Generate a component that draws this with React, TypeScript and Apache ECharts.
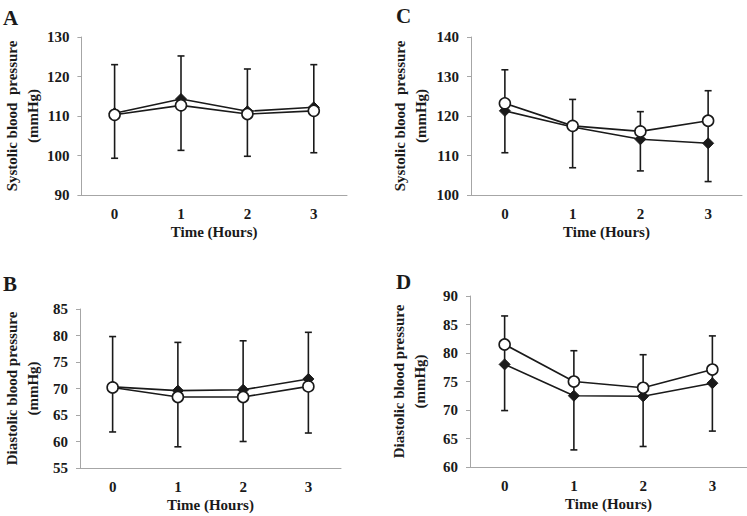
import React, { useEffect, useRef } from "react";
import * as echarts from "echarts";

const hours = ["0", "1", "2", "3"];

// Panel A – systolic
const aDiamond = [110.7, 114.3, 111.2, 112.2];
const aCircle = [110.3, 112.7, 110.5, 111.3];
const aHigh = [123.0, 125.2, 121.9, 123.0];
const aLow = [99.3, 101.3, 99.8, 100.7];

// Panel B – diastolic
const bDiamond = [70.3, 69.6, 69.75, 71.8];
const bCircle = [70.2, 68.4, 68.4, 70.4];
const bHigh = [79.8, 78.7, 79.0, 80.6];
const bLow = [61.8, 59.0, 60.0, 61.6];

// Panel C – systolic
const cDiamond = [121.3, 117.2, 114.1, 113.1];
const cCircle = [123.2, 117.5, 116.1, 118.8];
const cHigh = [131.7, 124.2, 121.1, 126.4];
const cLow = [110.7, 106.9, 106.1, 103.4];

// Panel D – diastolic
const dDiamond = [78.0, 72.5, 72.4, 74.7];
const dCircle = [81.5, 75.0, 73.9, 77.1];
const dHigh = [86.5, 80.4, 79.7, 83.0];
const dLow = [69.9, 63.0, 63.6, 66.3];

const yRanges = [
  { min: 90, max: 130, interval: 10 },
  { min: 55, max: 85, interval: 5 },
  { min: 100, max: 140, interval: 10 },
  { min: 60, max: 90, interval: 5 },
];
const yNames = [
  "Systolic blood  pressure\n(mmHg)",
  "Diastolic blood pressure\n(mmHg)",
  "Systolic blood  pressure\n(mmHg)",
  "Diastolic blood pressure\n(mmHg)",
];
const panelLetters = ["A", "B", "C", "D"];

const FONT = "'Liberation Serif', 'Times New Roman', serif";
const AXIS_GRAY = "#a6a6a6";
const INK = "#1a1a1a";

export default function App() {
  const ref = useRef<HTMLDivElement>(null);
  useEffect(() => {
    if (!ref.current) return;
    const chart = echarts.init(ref.current, undefined, { renderer: "svg" });

    const panels = [
      { d: aDiamond, c: aCircle, hi: aHigh, lo: aLow },
      { d: bDiamond, c: bCircle, hi: bHigh, lo: bLow },
      { d: cDiamond, c: cCircle, hi: cHigh, lo: cLow },
      { d: dDiamond, c: dCircle, hi: dHigh, lo: dLow },
    ];

    const grids = [
      { left: 75, top: 37, width: 272, height: 158 },
      { left: 73, top: 309, width: 268, height: 159 },
      { left: 471, top: 37, width: 271, height: 158 },
      { left: 470, top: 296, width: 277, height: 171 },
    ];
    const yNameGaps = [36, 37, 40, 40];

    const xAxes = grids.map((_, i) => ({
      type: "category",
      gridIndex: i,
      data: hours,
      boundaryGap: true,
      name: "Time (Hours)",
      nameLocation: "middle",
      nameGap: 29,
      nameTextStyle: { fontFamily: FONT, fontWeight: "bold", fontSize: 15, color: INK },
      axisLine: { show: true, lineStyle: { color: AXIS_GRAY, width: 1 } },
      axisTick: { show: false },
      axisLabel: { fontFamily: FONT, fontWeight: "bold", fontSize: 15, color: INK, margin: 11 },
      splitLine: { show: false },
    }));

    const yAxes = grids.map((_, i) => ({
      type: "value",
      gridIndex: i,
      min: yRanges[i].min,
      max: yRanges[i].max,
      interval: yRanges[i].interval,
      name: yNames[i],
      nameLocation: "middle",
      nameRotate: 90,
      nameGap: yNameGaps[i],
      nameTextStyle: {
        fontFamily: FONT,
        fontWeight: "bold",
        fontSize: 15,
        color: INK,
        lineHeight: 21,
        verticalAlign: "bottom",
      },
      axisLine: { show: true, lineStyle: { color: AXIS_GRAY, width: 1 } },
      axisTick: { show: true, length: 4, lineStyle: { color: AXIS_GRAY } },
      axisLabel: { fontFamily: FONT, fontWeight: "bold", fontSize: 15, color: INK, margin: 12 },
      splitLine: { show: false },
    }));

    const series: any[] = [];
    panels.forEach((p, i) => {
      series.push({
        type: "custom",
        xAxisIndex: i,
        yAxisIndex: i,
        z: 1,
        encode: { x: 0, y: [1, 2] },
        data: hours.map((_, k) => [k, p.lo[k], p.hi[k]]),
        renderItem: (params: any, api: any) => {
          const x = api.value(0);
          const pLo = api.coord([x, api.value(1)]);
          const pHi = api.coord([x, api.value(2)]);
          const w = 3.5;
          const st = { stroke: INK, lineWidth: 1.6 };
          return {
            type: "group",
            children: [
              { type: "line", shape: { x1: pLo[0], y1: pLo[1], x2: pHi[0], y2: pHi[1] }, style: st },
              { type: "line", shape: { x1: pLo[0] - w, y1: pLo[1], x2: pLo[0] + w, y2: pLo[1] }, style: st },
              { type: "line", shape: { x1: pHi[0] - w, y1: pHi[1], x2: pHi[0] + w, y2: pHi[1] }, style: st },
            ],
          };
        },
      });
      series.push({
        type: "line",
        xAxisIndex: i,
        yAxisIndex: i,
        z: 3,
        data: p.d,
        symbol: "diamond",
        symbolSize: 11,
        lineStyle: { color: INK, width: 1.6 },
        itemStyle: { color: INK, borderColor: INK, borderWidth: 1 },
      });
      series.push({
        type: "line",
        xAxisIndex: i,
        yAxisIndex: i,
        z: 4,
        data: p.c,
        symbol: "circle",
        symbolSize: 11,
        showSymbol: true,
        lineStyle: { color: INK, width: 1.6 },
        itemStyle: { color: "#ffffff", borderColor: INK, borderWidth: 1.6 },
      });
    });

    const letterPos = [
      { x: 3, y: 7 },
      { x: 3, y: 273 },
      { x: 396, y: 5 },
      { x: 396, y: 271 },
    ];

    chart.setOption({
      animation: false,
      backgroundColor: "#ffffff",
      grid: grids.map((g) => ({ ...g, containLabel: false })),
      xAxis: xAxes,
      yAxis: yAxes,
      series,
      graphic: panelLetters.map((t, i) => ({
        type: "text",
        left: letterPos[i].x,
        top: letterPos[i].y,
        style: { text: t, fontFamily: FONT, fontWeight: "bold", fontSize: 21, fill: INK },
      })),
    });

    return () => chart.dispose();
  }, []);

  return (
    <div
      ref={ref}
      style={{ position: "absolute", left: 0, top: 0, width: 747, height: 516 }}
    />
  );
}
